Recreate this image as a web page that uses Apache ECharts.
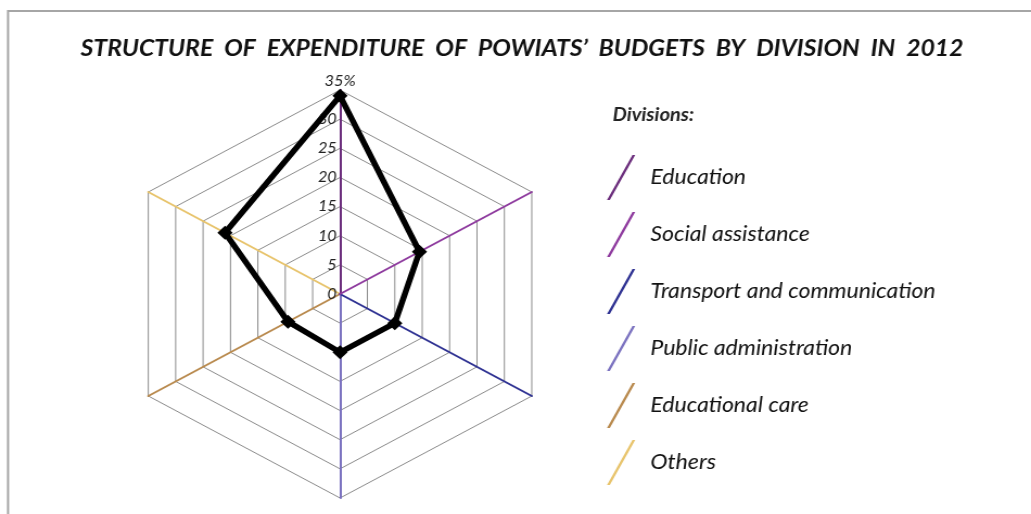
<!DOCTYPE html>
<html>
<head>
<meta charset="utf-8">
<script src="https://cdn.jsdelivr.net/npm/echarts@6/dist/echarts.min.js"></script>
<style>
  html, body { margin: 0; padding: 0; background: #fff; overflow: hidden; }
  /* the source picture is a chart stretched sideways, so draw narrow and stretch back */
  #chart { width: 950px; height: 514px; transform: scaleX(1.0853); transform-origin: 0 0; }
</style>
</head>
<body>
<div id="chart"></div>
<script>
// divisions, listed clockwise starting from the top axis
var divisions = ['Education', 'Social assistance', 'Transport and communication',
                 'Public administration', 'Educational care', 'Others'];
// share of expenditure, %
var shares = [34, 14.5, 10, 10, 9.5, 21];
var axisMax = 35;
var axisSplits = 7;

var axisColors = ['#6b2d7c', '#8e3a9e', '#2e3192', '#7b72c0', '#b98a4e', '#e8c46c'];

// echarts lays radar indicators out counter-clockwise, so walk the list backwards
var order = [0, 5, 4, 3, 2, 1];

var chart = echarts.init(document.getElementById('chart'));

var indicators = order.map(function (i) {
    var ind = {
        name: divisions[i],
        min: 0,
        max: axisMax,
        axisLine: { lineStyle: { color: axisColors[i], width: 2 } }
    };
    if (i === 0) {
        ind.axisLabel = { show: true };
    }
    return ind;
});

// invisible items so the legend can list the divisions with their axis colours
var legendItems = divisions.map(function (d, i) {
    return {
        name: d,
        value: order.map(function () { return 0; }),
        symbol: 'none',
        lineStyle: { width: 0, opacity: 0 },
        itemStyle: { color: axisColors[i] }
    };
});

var option = {
    backgroundColor: '#fff',
    animation: false,
    graphic: [{
        type: 'rect',
        z: -1,
        shape: { x: 7.4, y: 11, width: 1100, height: 600 },
        style: { fill: 'none', stroke: '#a6a6a6', lineWidth: 2 }
    }],
    title: [{
        text: 'STRUCTURE  OF  EXPENDITURE  OF  POWIATS\u2019  BUDGETS  BY  DIVISION  IN  2012',
        left: 476,
        textAlign: 'center',
        top: 32,
        textStyle: {
            fontFamily: 'Lato',
            fontStyle: 'italic',
            fontWeight: 'bold',
            fontSize: 22.8,
            color: '#111'
        }
    }, {
        text: 'Divisions:',
        left: 564.5,
        top: 106,
        padding: 0,
        textStyle: {
            fontFamily: 'Lato',
            fontStyle: 'italic',
            fontWeight: 'bold',
            fontSize: 18.5,
            color: '#222'
        }
    }],
    legend: {
        orient: 'vertical',
        left: 559.3,
        top: 155,
        padding: 0,
        itemWidth: 26,
        itemHeight: 45,
        itemGap: 12,
        selectedMode: false,
        icon: 'path://M0,45L23.4,0L26,0L2.6,45Z',
        data: divisions.map(function (d, i) {
            return { name: d, itemStyle: { color: axisColors[i], borderWidth: 0 } };
        }),
        textStyle: {
            fontFamily: 'Lato',
            fontStyle: 'italic',
            fontSize: 21.2,
            color: '#111',
            padding: [0, 0, 0, 9]
        }
    },
    radar: {
        center: [313.3, 294],
        radius: 204,
        startAngle: 90,
        shape: 'polygon',
        splitNumber: axisSplits,
        indicator: indicators,
        axisName: {
            formatter: function (name) {
                return name === divisions[0] ? axisMax + '%' : '';
            },
            fontFamily: 'Lato',
            fontStyle: 'italic',
            fontSize: 15,
            color: '#222'
        },
        nameGap: 1,
        axisLabel: {
            show: false,
            formatter: function (v) { return v === axisMax ? '' : v; },
            margin: 3,
            align: 'right',
            fontFamily: 'Lato',
            fontStyle: 'italic',
            fontSize: 15,
            color: '#222'
        },
        axisTick: { show: false },
        splitLine: { lineStyle: { color: '#8c8c8c', width: 1 } },
        splitArea: { show: false }
    },
    series: [{
        type: 'radar',
        z: 5,
        data: [{
            name: 'Share of expenditure',
            value: order.map(function (i) { return shares[i]; }),
            symbol: 'diamond',
            symbolSize: 14,
            lineStyle: { color: '#000', width: 5.5 },
            itemStyle: { color: '#000' }
        }].concat(legendItems)
    }]
};

chart.setOption(option);
</script>
</body>
</html>
